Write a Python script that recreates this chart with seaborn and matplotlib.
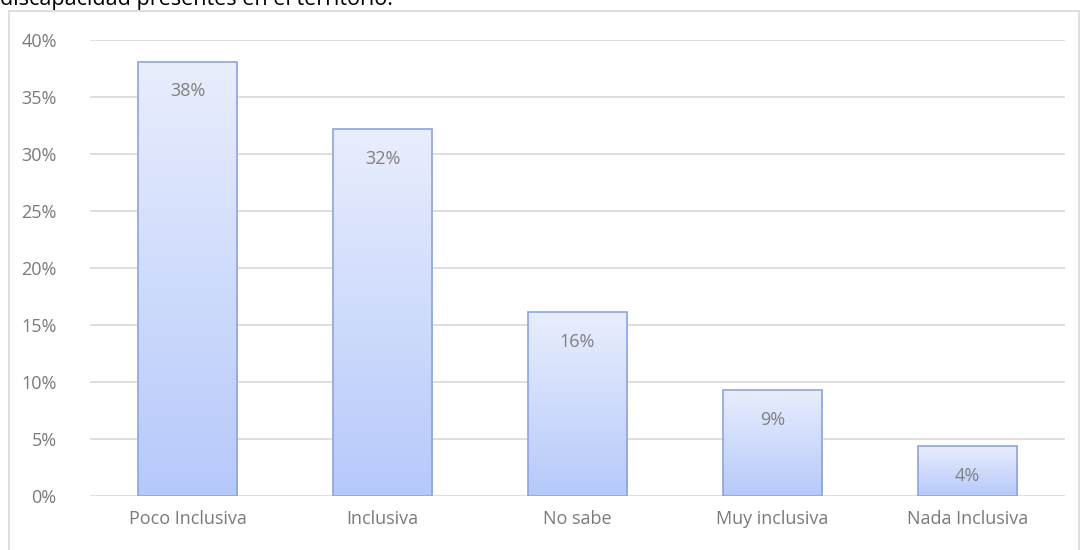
import numpy as np
import pandas as pd
import seaborn as sns
import matplotlib.pyplot as plt
from matplotlib.patches import Rectangle
from matplotlib.colors import LinearSegmentedColormap

sns.set_theme(style="white")
plt.rcParams['font.family'] = ['Open Sans', 'DejaVu Sans']

categorias = ["Poco Inclusiva", "Inclusiva", "No sabe", "Muy inclusiva", "Nada Inclusiva"]
valores = [0.381, 0.322, 0.161, 0.093, 0.044]
etiquetas = ["38%", "32%", "16%", "9%", "4%"]
yticks = [0, 0.05, 0.10, 0.15, 0.20, 0.25, 0.30, 0.35, 0.40]

df = pd.DataFrame({"cat": categorias, "val": valores})

fig = plt.figure(figsize=(10.89, 5.5), dpi=100)
ax = fig.add_axes([90 / 1089, 1 - 496 / 550, 975 / 1089, 456 / 550])

sns.barplot(data=df, x="cat", y="val", color="#c9d6fb", width=0.51,
            edgecolor="#8fa3de", linewidth=1.2, ax=ax, zorder=3)

# degradado vertical dentro de cada barra
cmap = LinearSegmentedColormap.from_list("g", ["#b6c9fb", "#e9eefd"])
grad = np.linspace(0, 1, 256).reshape(-1, 1)
for p, lab in zip(ax.patches, etiquetas):
    x0, w, h = p.get_x(), p.get_width(), p.get_height()
    im = ax.imshow(grad, cmap=cmap, origin="lower", aspect="auto",
                   extent=[x0, x0 + w, 0, h], zorder=3.5)
    im.set_clip_path(p)
    p.set_facecolor("none")
    p.set_zorder(4)
    ax.annotate(lab, (x0 + w / 2, h), xytext=(0, -25), textcoords="offset points",
                ha="center", va="baseline", fontsize=13, color="#808080", zorder=5)

ax.set_xlim(-0.5, 4.5)
ax.set_ylim(0, 0.40)
ax.set_yticks(yticks)
ax.set_yticklabels([f"{int(round(t * 100))}%" for t in yticks])
ax.yaxis.grid(True, color="#d9d9d9", linewidth=1.2, zorder=0)
ax.set_axisbelow(True)
for s in ax.spines.values():
    s.set_visible(False)
ax.set_xlabel("")
ax.set_ylabel("")
ax.tick_params(axis="both", length=0, labelsize=13, colors="#7a7a7a")
ax.tick_params(axis="y", pad=24)
ax.tick_params(axis="x", pad=10)

# marco exterior del grafico
fig.patches.append(Rectangle((9 / 1089, -0.05), 1070 / 1089, 1.05 - 11 / 550,
                             transform=fig.transFigure, fill=False,
                             edgecolor="#d9d9d9", linewidth=1.2))

fig.text(0.0, 1 - 5 / 550, "discapacidad presentes en el territorio.",
         ha="left", va="baseline", fontsize=15.5, color="black")

fig.savefig("out.png", dpi=100)
